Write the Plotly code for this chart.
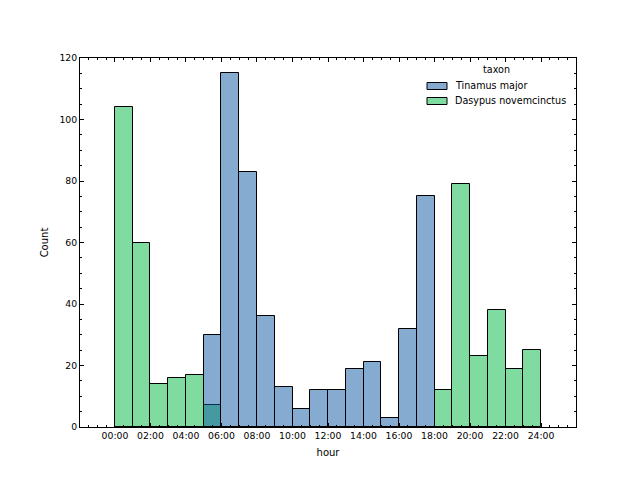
import plotly.graph_objects as go

# Data (hour bin start -> count)
tinamus_hours = [5, 6, 7, 8, 9, 10, 11, 12, 13, 14, 15, 16, 17]
tinamus_counts = [30, 115, 83, 36, 13, 6, 12, 12, 19, 21, 3, 32, 75]
dasypus_hours = [0, 1, 2, 3, 4, 5, 18, 19, 20, 21, 22, 23]
dasypus_counts = [104, 60, 14, 16, 17, 7, 12, 79, 23, 38, 19, 25]

series_names = ["Tinamus major", "Dasypus novemcinctus"]
series_colors = ["rgba(11,87,161,0.5)", "rgba(0,183,65,0.5)"]

tick_vals = list(range(0, 25, 2))
tick_text = ["%02d:00" % h for h in tick_vals]

FONT = "DejaVu Sans"

fig = go.Figure()
fig.add_trace(go.Bar(
    x=[h + 0.5 for h in dasypus_hours], y=dasypus_counts, width=1,
    name=series_names[1], showlegend=False,
    marker=dict(color=series_colors[1], line=dict(color="black", width=1)),
))
fig.add_trace(go.Bar(
    x=[h + 0.5 for h in tinamus_hours], y=tinamus_counts, width=1,
    name=series_names[0], showlegend=False,
    marker=dict(color=series_colors[0], line=dict(color="black", width=1)),
))

# Matplotlib-style legend (title + rectangular patches)
L, T, W, H = 80, 58, 496, 369


def px_x(p):
    return (p - L) / W


def px_y(p):
    return (T + H - p) / H


LEG_FONT = 9.6
shapes = []
annotations = [dict(
    x=px_x(496), y=px_y(70), xref="paper", yref="paper",
    text="taxon", showarrow=False, xanchor="center", yanchor="middle",
    font=dict(size=LEG_FONT),
)]
for i, (nm, col) in enumerate(zip(series_names, series_colors)):
    cy = 86 + 15 * i
    shapes.append(dict(
        type="rect", xref="paper", yref="paper",
        x0=px_x(427), x1=px_x(447), y0=px_y(cy - 3.5), y1=px_y(cy + 3.5),
        fillcolor=col, line=dict(color="black", width=1),
    ))
    annotations.append(dict(
        x=px_x(453), y=px_y(cy), xref="paper", yref="paper",
        text=nm, showarrow=False, xanchor="left", yanchor="middle",
        font=dict(size=LEG_FONT),
    ))

fig.update_layout(
    width=640, height=480,
    margin=dict(l=80, r=64, t=58, b=53),
    paper_bgcolor="white", plot_bgcolor="white",
    barmode="overlay", bargap=0,
    font=dict(family=FONT, size=10, color="black"),
    shapes=shapes, annotations=annotations,
    showlegend=False,
)
fig.update_xaxes(
    range=[-1.97, 25.97],
    tickmode="array", tickvals=tick_vals, ticktext=tick_text,
    ticks="inside", ticklen=4, tickwidth=1, tickcolor="black",
    minor=dict(tickmode="linear", tick0=0, dtick=0.5, ticks="inside",
               ticklen=2, tickcolor="black", tickwidth=1),
    showline=True, linecolor="black", linewidth=1, mirror="ticks",
    showgrid=False, zeroline=False,
    tickfont=dict(size=9.3),
    title=dict(text="hour", font=dict(size=10), standoff=8),
)
fig.update_yaxes(
    range=[0, 120], tickmode="linear", tick0=0, dtick=20,
    ticks="inside", ticklen=4, tickwidth=1, tickcolor="black",
    minor=dict(tickmode="linear", tick0=0, dtick=5, ticks="inside",
               ticklen=2, tickcolor="black", tickwidth=1),
    showline=True, linecolor="black", linewidth=1, mirror="ticks",
    showgrid=False, zeroline=False,
    tickfont=dict(size=9.3),
    title=dict(text="Count", font=dict(size=10), standoff=8),
)

fig.write_html("out.html")
